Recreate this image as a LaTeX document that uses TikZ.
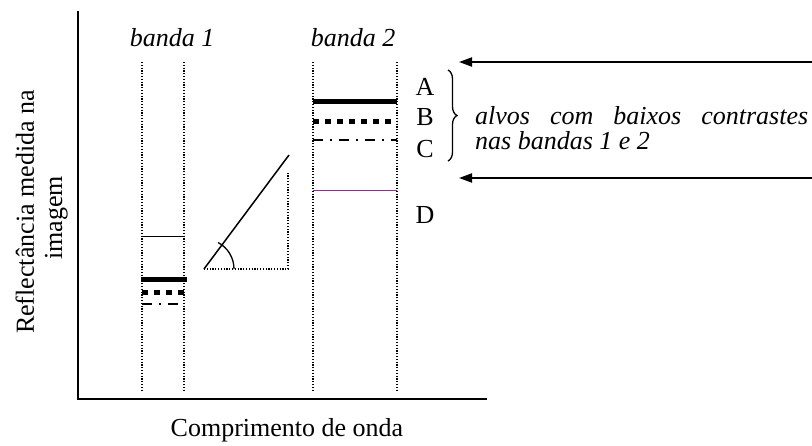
\documentclass[tikz,border=0pt]{standalone}
\usepackage{fontspec}
\setmainfont{Liberation Serif}
\usetikzlibrary{arrows.meta,decorations.pathreplacing}
\definecolor{lilac}{RGB}{150,40,150}
\begin{document}
\begin{tikzpicture}[x=1pt,y=1pt,
  lbl/.style={font=\fontsize{26}{30}\selectfont, inner sep=0pt},
  ilbl/.style={font=\fontsize{26}{30}\selectfont\itshape, inner sep=0pt},
  axisline/.style={line width=2pt},
  dotline/.style={line width=1.2pt, dash pattern=on 1.2pt off 1.6pt},
  thickline/.style={line width=5pt},
  squareline/.style={line width=5pt, dash pattern=on 5.5pt off 6.5pt},
  dashdotline/.style={line width=1.4pt, dash pattern=on 10pt off 7pt on 2pt off 7pt},
  thinline/.style={line width=0.8pt},
  purpleline/.style={line width=1pt, draw=lilac},
  arr/.style={line width=2pt, -{Triangle[length=13pt,width=9pt]}},
  bracestyle/.style={line width=1.3pt, decorate, decoration={brace, amplitude=9pt}}
]
\useasboundingbox (0,0) rectangle (812,-445);

% axes
\coordinate (otop) at (78,-11);
\coordinate (orig) at (78,-399);
\coordinate (xend) at (487,-399);
\draw[axisline] (otop) -- (orig) -- (xend);

% axis labels
\node[lbl, rotate=90, anchor=base] (ylab1) at (34,-212) {Reflectância medida na};
\node[lbl, rotate=90, anchor=base] (ylab2) at (62,-218) {imagem};
\node[lbl, anchor=base] (xlab) at (287,-436) {Comprimento de onda};

% band boundaries
\foreach \x/\n in {142/a,184/b,313/c,397/d} {
  \coordinate (top\n) at (\x,-62);
  \coordinate (bot\n) at (\x,-392);
  \draw[dotline] (top\n) -- (bot\n);
}
\node[ilbl, anchor=base] (band1) at (172,-46) {banda 1};
\node[ilbl, anchor=base] (band2) at (353,-46) {banda 2};

% band 1 levels
\draw[thinline] (142,-236) -- (184,-236);
\draw[thickline] (141,-279) -- (187,-279);
\draw[squareline] (142,-292) -- (187,-292);
\draw[dashdotline] (142,-304) -- (184,-304);

% band 2 levels
\draw[thickline] (313,-101) -- (397,-101);
\draw[squareline] (313,-121) -- (397,-121);
\draw[dashdotline] (313,-140) -- (397,-140);
\draw[purpleline] (313,-190) -- (397,-190);

% level letters
\node[lbl, anchor=base] (lA) at (425,-95) {A};
\node[lbl, anchor=base] (lB) at (425,-125) {B};
\node[lbl, anchor=base] (lC) at (425,-157) {C};
\node[lbl, anchor=base] (lD) at (425,-223) {D};

% brace and text
\coordinate (brtop) at (448,-70);
\coordinate (brbot) at (448,-161);
\draw[bracestyle] (brtop) -- (brbot);
\node[ilbl, anchor=base west] (txt1) at (475,-124) {\makebox[333pt][s]{alvos com baixos contrastes}};
\node[ilbl, anchor=base west] (txt2) at (475,-149) {nas bandas 1 e 2};

% arrows
\coordinate (a1s) at (812,-62);
\coordinate (a1e) at (459,-62);
\coordinate (a2s) at (812,-178);
\coordinate (a2e) at (459,-178);
\draw[arr] (a1s) -- (a1e);
\draw[arr] (a2s) -- (a2e);

% angle sketch
\coordinate (v) at (204,-269);
\coordinate (t) at (289,-155);
\coordinate (c) at (288,-269);
\coordinate (ct) at (288,-173);
\draw[line width=1.5pt] (v) -- (t);
\draw[dotline] (v) -- (c) -- (ct);
\draw[line width=1.3pt] (234,-269) arc[start angle=0, end angle=62, radius=30pt];
\end{tikzpicture}
\end{document}
